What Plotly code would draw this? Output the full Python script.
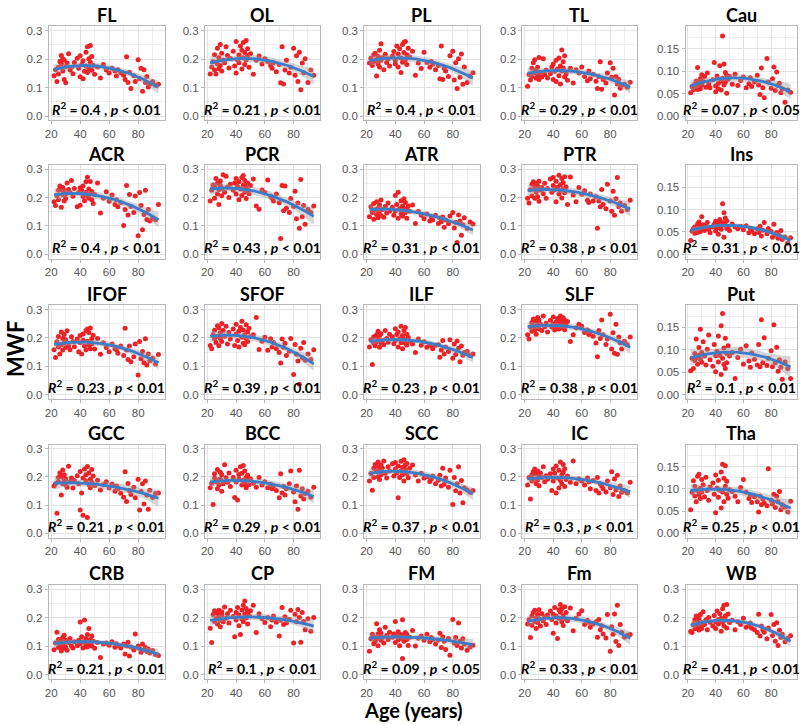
import numpy as np
import plotly.graph_objects as go

ages = [22, 23, 24, 25, 25, 26, 27, 27, 28, 28, 29, 29, 30, 30, 31, 32, 33, 34, 35, 36,
        38, 39, 40, 40, 41, 42, 42, 43, 44, 44, 45, 45, 46, 46, 47, 47, 48, 48, 49, 50,
        52, 54, 56, 58, 60, 62, 64, 65, 66, 68, 70, 71, 72, 73, 74, 75,
        77, 78, 80, 81, 82, 83, 84, 85, 86, 87, 88, 90, 92, 94]

titles = ["FL", "OL", "PL", "TL", "Cau",
          "ACR", "PCR", "ATR", "PTR", "Ins",
          "IFOF", "SFOF", "ILF", "SLF", "Put",
          "GCC", "BCC", "SCC", "IC", "Tha",
          "CRB", "CP", "FM", "Fm", "WB"]

r2_labels = ["0.4", "0.21", "0.4", "0.29", "0.07",
             "0.4", "0.43", "0.31", "0.38", "0.31",
             "0.23", "0.39", "0.23", "0.38", "0.1",
             "0.21", "0.29", "0.37", "0.3", "0.25",
             "0.21", "0.1", "0.09", "0.33", "0.41"]

p_labels = ["0.01", "0.01", "0.01", "0.01", "0.05",
            "0.01", "0.01", "0.01", "0.01", "0.01",
            "0.01", "0.01", "0.01", "0.01", "0.01",
            "0.01", "0.01", "0.01", "0.01", "0.01",
            "0.01", "0.01", "0.05", "0.01", "0.01"]

mwf_FL = [0.142,0.163,0.121,0.171,0.148,0.192,0.213,0.183,0.201,0.158,
          0.128,0.196,0.117,0.174,0.186,0.219,0.162,0.171,0.149,0.188,
          0.203,0.168,0.138,0.212,0.181,0.131,0.194,0.157,0.224,0.176,
          0.153,0.243,0.201,0.167,0.248,0.189,0.161,0.209,0.178,0.147,
          0.172,0.134,0.181,0.162,0.151,0.168,0.158,0.141,0.163,0.152,
          0.143,0.128,0.208,0.118,0.154,0.097,
          0.142,0.121,0.198,0.131,0.168,0.087,0.163,0.118,0.139,0.102,0.113,0.121,0.108,0.112]
mwf_OL = [0.148,0.172,0.191,0.162,0.215,0.148,0.238,0.183,0.205,0.166,
          0.251,0.178,0.221,0.158,0.196,0.187,0.243,0.213,0.169,0.202,
          0.228,0.176,0.151,0.262,0.198,0.214,0.187,0.246,0.165,0.231,
          0.205,0.258,0.181,0.223,0.265,0.197,0.212,0.236,0.171,0.219,
          0.147,0.196,0.211,0.183,0.201,0.192,0.178,0.168,0.187,0.156,
          0.181,0.117,0.243,0.113,0.162,0.196,
          0.151,0.171,0.238,0.143,0.212,0.121,0.224,0.092,0.186,0.152,0.201,0.118,0.162,0.143]
mwf_PL = [0.186,0.203,0.178,0.215,0.192,0.221,0.141,0.198,0.183,0.209,
          0.172,0.231,0.196,0.254,0.205,0.163,0.217,0.188,0.201,0.176,
          0.211,0.227,0.183,0.196,0.246,0.172,0.218,0.236,0.153,0.204,
          0.251,0.189,0.223,0.259,0.197,0.262,0.215,0.181,0.238,0.207,
          0.228,0.143,0.186,0.167,0.224,0.188,0.171,0.192,0.182,0.163,
          0.178,0.131,0.246,0.128,0.168,0.158,
          0.139,0.212,0.228,0.127,0.187,0.097,0.201,0.136,0.218,0.112,0.172,0.118,0.141,0.152]
mwf_TL = [0.105,0.146,0.127,0.168,0.139,0.187,0.152,0.198,0.133,0.161,
          0.142,0.171,0.128,0.206,0.153,0.137,0.201,0.146,0.162,0.134,
          0.149,0.172,0.128,0.183,0.157,0.121,0.196,0.165,0.142,0.204,
          0.176,0.113,0.232,0.158,0.191,0.169,0.137,0.212,0.148,0.126,
          0.168,0.116,0.163,0.151,0.172,0.139,0.124,0.158,0.131,0.147,
          0.122,0.097,0.138,0.191,0.094,0.128,
          0.116,0.151,0.187,0.136,0.168,0.074,0.138,0.113,0.129,0.098,0.108,0.112,0.101,0.119]
mwf_Cau = [0.052,0.066,0.058,0.071,0.062,0.078,0.108,0.059,0.074,0.066,
           0.083,0.061,0.092,0.069,0.077,0.088,0.064,0.096,0.072,0.063,
           0.081,0.119,0.067,0.054,0.089,0.073,0.061,0.112,0.078,0.058,
           0.178,0.084,0.116,0.069,0.097,0.075,0.051,0.091,0.082,0.088,
           0.071,0.093,0.068,0.079,0.087,0.063,0.072,0.085,0.066,0.076,
           0.091,0.069,0.048,0.107,0.063,0.041,
           0.128,0.076,0.062,0.083,0.109,0.057,0.098,0.068,0.073,0.052,0.061,0.031,0.058,0.053]
mwf_ACR = [0.186,0.172,0.208,0.226,0.193,0.241,0.166,0.229,0.211,0.236,
           0.188,0.224,0.213,0.197,0.252,0.229,0.218,0.261,0.205,0.232,
           0.168,0.218,0.235,0.173,0.226,0.204,0.241,0.189,0.219,0.256,
           0.208,0.272,0.198,0.231,0.214,0.257,0.193,0.222,0.179,0.211,
           0.252,0.146,0.198,0.221,0.187,0.209,0.176,0.193,0.168,0.183,
           0.102,0.158,0.243,0.139,0.211,0.169,
           0.148,0.206,0.066,0.218,0.172,0.087,0.141,0.226,0.123,0.158,0.118,0.127,0.122,0.176]
mwf_PCR = [0.188,0.226,0.245,0.198,0.237,0.268,0.213,0.251,0.229,0.176,
           0.243,0.259,0.207,0.232,0.281,0.219,0.276,0.238,0.201,0.247,
           0.226,0.252,0.213,0.268,0.239,0.193,0.256,0.231,0.271,0.208,
           0.244,0.278,0.219,0.261,0.236,0.197,0.252,0.228,0.214,0.243,
           0.266,0.171,0.159,0.227,0.218,0.262,0.206,0.198,0.188,0.213,
           0.182,0.056,0.243,0.154,0.241,0.163,
           0.148,0.197,0.169,0.223,0.126,0.181,0.092,0.264,0.133,0.172,0.106,0.158,0.148,0.171]
mwf_ATR = [0.133,0.168,0.148,0.124,0.179,0.157,0.141,0.186,0.129,0.163,
           0.152,0.174,0.137,0.192,0.158,0.131,0.169,0.146,0.181,0.152,
           0.166,0.138,0.208,0.153,0.176,0.127,0.219,0.161,0.143,0.189,
           0.171,0.135,0.196,0.158,0.148,0.183,0.162,0.127,0.171,0.152,
           0.174,0.109,0.151,0.138,0.126,0.142,0.118,0.133,0.121,0.138,
           0.109,0.128,0.115,0.132,0.096,0.121,
           0.108,0.135,0.148,0.093,0.113,0.042,0.139,0.118,0.067,0.104,0.129,0.091,0.114,0.107]
mwf_PTR = [0.198,0.181,0.228,0.247,0.206,0.256,0.198,0.238,0.219,0.251,
           0.203,0.241,0.187,0.258,0.227,0.236,0.214,0.251,0.198,0.232,
           0.266,0.219,0.243,0.271,0.228,0.186,0.258,0.237,0.213,0.279,
           0.246,0.224,0.268,0.199,0.253,0.231,0.274,0.217,0.238,0.176,
           0.273,0.209,0.186,0.236,0.212,0.224,0.191,0.183,0.213,0.188,
           0.203,0.092,0.188,0.168,0.229,0.176,
           0.161,0.247,0.188,0.152,0.223,0.138,0.196,0.271,0.168,0.181,0.152,0.172,0.158,0.191]
mwf_Ins = [0.031,0.052,0.058,0.047,0.061,0.055,0.068,0.049,0.072,0.057,
           0.063,0.051,0.084,0.059,0.066,0.053,0.062,0.071,0.056,0.048,
           0.061,0.067,0.052,0.074,0.059,0.069,0.045,0.078,0.063,0.056,
           0.113,0.071,0.038,0.093,0.066,0.081,0.058,0.075,0.062,0.053,
           0.068,0.061,0.057,0.063,0.055,0.064,0.048,0.058,0.052,0.046,
           0.057,0.049,0.063,0.041,0.054,0.071,
           0.046,0.058,0.051,0.038,0.067,0.044,0.049,0.036,0.042,0.053,0.033,0.039,0.025,0.037]
mwf_IFOF = [0.158,0.131,0.186,0.168,0.205,0.143,0.221,0.176,0.198,0.157,
            0.212,0.183,0.166,0.193,0.225,0.172,0.158,0.204,0.187,0.169,
            0.196,0.151,0.208,0.183,0.143,0.214,0.192,0.171,0.226,0.158,
            0.231,0.188,0.174,0.219,0.162,0.235,0.197,0.178,0.209,0.161,
            0.198,0.142,0.183,0.166,0.151,0.178,0.162,0.158,0.146,0.171,
            0.138,0.234,0.157,0.124,0.171,0.116,
            0.133,0.178,0.069,0.187,0.126,0.152,0.112,0.197,0.104,0.143,0.119,0.128,0.108,0.141]
mwf_SFOF = [0.173,0.162,0.211,0.196,0.227,0.184,0.243,0.205,0.172,0.236,
            0.198,0.218,0.251,0.187,0.226,0.206,0.241,0.178,0.219,0.196,
            0.231,0.173,0.214,0.248,0.191,0.223,0.168,0.237,0.202,0.259,
            0.181,0.228,0.211,0.176,0.246,0.198,0.221,0.187,0.234,0.205,
            0.211,0.272,0.159,0.188,0.202,0.156,0.197,0.168,0.184,0.162,
            0.148,0.111,0.196,0.167,0.181,0.138,
            0.153,0.198,0.071,0.177,0.142,0.118,0.036,0.163,0.131,0.184,0.121,0.143,0.124,0.158]
mwf_ILF = [0.168,0.193,0.106,0.181,0.204,0.172,0.211,0.186,0.196,0.223,
           0.167,0.208,0.183,0.215,0.191,0.176,0.226,0.198,0.185,0.213,
           0.204,0.179,0.232,0.191,0.212,0.168,0.221,0.197,0.183,0.241,
           0.208,0.162,0.226,0.194,0.237,0.181,0.213,0.175,0.201,0.188,
           0.178,0.148,0.196,0.174,0.186,0.167,0.178,0.171,0.162,0.174,
           0.176,0.132,0.157,0.191,0.143,0.168,
           0.152,0.193,0.128,0.178,0.141,0.189,0.163,0.116,0.171,0.139,0.148,0.152,0.138,0.143]
mwf_SLF = [0.211,0.196,0.238,0.254,0.223,0.267,0.241,0.228,0.259,0.213,
           0.272,0.246,0.231,0.263,0.248,0.226,0.277,0.239,0.252,0.221,
           0.262,0.238,0.249,0.274,0.228,0.256,0.243,0.268,0.231,0.259,
           0.277,0.246,0.266,0.236,0.271,0.252,0.229,0.262,0.244,0.258,
           0.187,0.211,0.236,0.248,0.241,0.219,0.228,0.212,0.221,0.206,
           0.182,0.133,0.226,0.198,0.263,0.211,
           0.177,0.196,0.283,0.161,0.218,0.146,0.248,0.142,0.203,0.183,0.161,0.188,0.176,0.203]
mwf_Put = [0.053,0.081,0.058,0.092,0.076,0.124,0.083,0.068,0.105,0.088,
           0.079,0.146,0.094,0.072,0.118,0.086,0.066,0.101,0.133,0.078,
           0.063,0.112,0.087,0.051,0.097,0.073,0.131,0.088,0.045,0.154,
           0.081,0.181,0.067,0.104,0.058,0.126,0.092,0.071,0.109,0.086,
           0.094,0.036,0.083,0.101,0.068,0.109,0.075,0.061,0.093,0.079,
           0.066,0.112,0.062,0.167,0.071,0.127,
           0.065,0.081,0.098,0.062,0.156,0.071,0.106,0.052,0.078,0.061,0.034,0.073,0.058,0.036]
mwf_GCC = [0.168,0.176,0.071,0.198,0.183,0.214,0.136,0.201,0.176,0.225,
           0.189,0.208,0.172,0.194,0.163,0.238,0.183,0.196,0.161,0.187,
           0.204,0.176,0.083,0.219,0.143,0.196,0.064,0.228,0.186,0.208,
           0.056,0.237,0.173,0.214,0.192,0.162,0.226,0.181,0.203,0.169,
           0.188,0.154,0.172,0.183,0.161,0.175,0.149,0.168,0.158,0.142,
           0.128,0.218,0.113,0.177,0.152,0.138,
           0.163,0.126,0.192,0.083,0.148,0.176,0.104,0.186,0.136,0.085,0.153,0.127,0.141,0.143]
mwf_BCC = [0.162,0.178,0.102,0.196,0.211,0.183,0.158,0.226,0.189,0.171,
           0.217,0.193,0.149,0.208,0.176,0.243,0.197,0.181,0.214,0.166,
           0.198,0.127,0.224,0.182,0.118,0.209,0.193,0.236,0.171,0.213,
           0.188,0.241,0.176,0.221,0.198,0.162,0.206,0.188,0.172,0.194,
           0.178,0.163,0.198,0.171,0.183,0.162,0.174,0.158,0.168,0.152,
           0.126,0.211,0.143,0.166,0.136,0.158,
           0.176,0.221,0.147,0.112,0.168,0.085,0.224,0.132,0.158,0.122,0.141,0.149,0.128,0.163]
mwf_SCC = [0.186,0.212,0.153,0.231,0.198,0.244,0.219,0.238,0.201,0.253,
           0.226,0.191,0.242,0.208,0.232,0.257,0.213,0.196,0.236,0.221,
           0.247,0.203,0.228,0.251,0.214,0.126,0.239,0.198,0.256,0.221,
           0.234,0.208,0.261,0.186,0.243,0.226,0.212,0.248,0.197,0.231,
           0.242,0.207,0.186,0.213,0.196,0.201,0.184,0.192,0.203,0.176,
           0.188,0.206,0.168,0.231,0.174,0.196,
           0.163,0.224,0.102,0.198,0.151,0.176,0.236,0.143,0.187,0.108,0.162,0.154,0.146,0.152]
mwf_IC = [0.171,0.198,0.122,0.186,0.208,0.219,0.193,0.228,0.176,0.211,
          0.189,0.221,0.201,0.169,0.214,0.198,0.236,0.183,0.204,0.192,
          0.211,0.152,0.228,0.186,0.213,0.143,0.239,0.196,0.161,0.224,
          0.187,0.253,0.208,0.176,0.244,0.216,0.166,0.229,0.191,0.203,
          0.181,0.257,0.176,0.193,0.186,0.171,0.196,0.183,0.158,0.187,
          0.152,0.198,0.143,0.176,0.168,0.158,
          0.147,0.186,0.162,0.218,0.138,0.193,0.154,0.206,0.131,0.168,0.146,0.152,0.143,0.181]
mwf_Tha = [0.053,0.092,0.118,0.084,0.106,0.071,0.128,0.096,0.087,0.133,
           0.101,0.078,0.121,0.093,0.109,0.082,0.126,0.096,0.074,0.104,
           0.113,0.088,0.131,0.046,0.102,0.119,0.081,0.097,0.138,0.057,
           0.155,0.093,0.124,0.071,0.152,0.106,0.088,0.117,0.079,0.098,
           0.094,0.083,0.071,0.103,0.121,0.092,0.078,0.086,0.069,0.082,
           0.071,0.048,0.083,0.064,0.077,0.068,
           0.062,0.145,0.074,0.066,0.088,0.058,0.083,0.071,0.094,0.053,0.064,0.059,0.048,0.072]
mwf_CRB = [0.088,0.112,0.149,0.096,0.124,0.103,0.084,0.118,0.132,0.092,
           0.108,0.139,0.097,0.121,0.086,0.113,0.127,0.101,0.094,0.116,
           0.102,0.121,0.185,0.109,0.133,0.094,0.116,0.192,0.104,0.127,
           0.141,0.098,0.162,0.112,0.123,0.107,0.136,0.101,0.118,0.093,
           0.113,0.061,0.108,0.112,0.104,0.116,0.097,0.109,0.103,0.094,
           0.108,0.073,0.101,0.114,0.066,0.098,
           0.087,0.143,0.101,0.092,0.079,0.108,0.088,0.096,0.082,0.091,0.077,0.085,0.071,0.068]
mwf_CP = [0.163,0.113,0.211,0.187,0.224,0.196,0.215,0.178,0.203,0.226,
          0.191,0.168,0.209,0.221,0.186,0.237,0.198,0.214,0.181,0.226,
          0.204,0.133,0.218,0.192,0.236,0.172,0.209,0.141,0.227,0.196,
          0.243,0.186,0.258,0.213,0.232,0.199,0.221,0.178,0.208,0.224,
          0.243,0.148,0.214,0.196,0.183,0.201,0.168,0.192,0.206,0.184,
          0.136,0.191,0.236,0.176,0.203,0.181,
          0.194,0.226,0.112,0.212,0.186,0.229,0.201,0.114,0.218,0.187,0.158,0.196,0.153,0.201]
mwf_FM = [0.083,0.126,0.142,0.109,0.133,0.118,0.179,0.127,0.143,0.102,
          0.137,0.158,0.121,0.146,0.131,0.112,0.167,0.138,0.124,0.149,
          0.132,0.143,0.113,0.187,0.136,0.122,0.151,0.102,0.141,0.128,
          0.057,0.193,0.134,0.118,0.148,0.137,0.124,0.141,0.103,0.132,
          0.155,0.101,0.128,0.136,0.121,0.142,0.116,0.131,0.124,0.108,
          0.122,0.146,0.096,0.133,0.118,0.089,
          0.127,0.069,0.194,0.112,0.131,0.103,0.181,0.118,0.094,0.126,0.108,0.086,0.098,0.104]
mwf_Fm = [0.178,0.193,0.131,0.206,0.174,0.218,0.187,0.226,0.162,0.199,
          0.211,0.183,0.228,0.196,0.171,0.214,0.188,0.202,0.176,0.209,
          0.223,0.194,0.146,0.212,0.236,0.181,0.206,0.127,0.228,0.198,
          0.219,0.246,0.186,0.231,0.207,0.173,0.238,0.196,0.218,0.189,
          0.234,0.154,0.198,0.213,0.224,0.176,0.191,0.183,0.167,0.178,
          0.186,0.132,0.194,0.158,0.172,0.143,
          0.129,0.211,0.083,0.168,0.142,0.213,0.117,0.243,0.103,0.176,0.148,0.132,0.139,0.141]
mwf_WB = [0.152,0.148,0.176,0.193,0.161,0.206,0.172,0.188,0.157,0.198,
          0.168,0.211,0.183,0.162,0.221,0.176,0.193,0.158,0.201,0.184,
          0.171,0.208,0.186,0.162,0.223,0.193,0.178,0.214,0.153,0.198,
          0.231,0.184,0.243,0.171,0.206,0.192,0.246,0.164,0.213,0.183,
          0.191,0.158,0.186,0.176,0.198,0.167,0.172,0.181,0.163,0.158,
          0.148,0.212,0.136,0.171,0.158,0.149,
          0.126,0.164,0.211,0.138,0.176,0.118,0.182,0.103,0.156,0.131,0.142,0.116,0.128,0.137]

series = [mwf_FL, mwf_OL, mwf_PL, mwf_TL, mwf_Cau,
          mwf_ACR, mwf_PCR, mwf_ATR, mwf_PTR, mwf_Ins,
          mwf_IFOF, mwf_SFOF, mwf_ILF, mwf_SLF, mwf_Put,
          mwf_GCC, mwf_BCC, mwf_SCC, mwf_IC, mwf_Tha,
          mwf_CRB, mwf_CP, mwf_FM, mwf_Fm, mwf_WB]

small_range = {"Cau", "Ins", "Put", "Tha"}

W, H = 800, 724
col_px = [(45, 162), (202, 318), (362, 478), (521, 636), (685, 797)]
row_px = [(24.5, 119), (164, 258), (305, 399), (445, 538.5), (586, 681)]

POINT = "#EC2227"
LINE = "#3D7CC9"
GRID = "#e3e3e3"
GRID_MINOR = "#efefef"
BORDER = "#b8b8b8"
TICKTXT = "#555555"

fig = go.Figure()
layout = dict(width=W, height=H, margin=dict(l=0, r=0, t=0, b=0),
              paper_bgcolor="white", plot_bgcolor="white", showlegend=False)
annotations = []

for i, (title, vals) in enumerate(zip(titles, series)):
    r, c = divmod(i, 5)
    k = i + 1
    sfx = "" if k == 1 else str(k)
    xa, ya = "x" + sfx, "y" + sfx
    x = np.array(ages, dtype=float)
    y = np.array(vals, dtype=float)

    # quadratic fit with 95% confidence band (like geom_smooth)
    X = np.vstack([x ** 2, x, np.ones_like(x)]).T
    coef, *_ = np.linalg.lstsq(X, y, rcond=None)
    resid = y - X @ coef
    s2 = resid @ resid / (len(x) - 3)
    XtXi = np.linalg.inv(X.T @ X)
    xs = np.linspace(x.min(), x.max(), 80)
    Xs = np.vstack([xs ** 2, xs, np.ones_like(xs)]).T
    fit = Xs @ coef
    se = np.sqrt(np.einsum("ij,jk,ik->i", Xs, XtXi, Xs) * s2)
    up, lo = fit + 1.995 * se, fit - 1.995 * se

    fig.add_trace(go.Scatter(x=x, y=y, mode="markers", xaxis=xa, yaxis=ya,
                             marker=dict(color=POINT, size=5, line=dict(width=0)),
                             hoverinfo="skip"))
    fig.add_trace(go.Scatter(x=np.concatenate([xs, xs[::-1]]),
                             y=np.concatenate([up, lo[::-1]]),
                             mode="lines", fill="toself", xaxis=xa, yaxis=ya,
                             fillcolor="rgba(153,153,153,0.4)",
                             line=dict(width=0), hoverinfo="skip"))
    fig.add_trace(go.Scatter(x=xs, y=fit, mode="lines", xaxis=xa, yaxis=ya,
                             line=dict(color=LINE, width=2.8), hoverinfo="skip"))

    l, rr = col_px[c]
    t, b = row_px[r]
    small = title in small_range
    if small:
        yr = [-0.0095, 0.1995]
        ytv = [0, 0.05, 0.10, 0.15]
        ytt = ["0.00", "0.05", "0.10", "0.15"]
        ymd = 0.025
    else:
        yr = [-0.015, 0.315]
        ytv = [0, 0.1, 0.2, 0.3]
        ytt = ["0.0", "0.1", "0.2", "0.3"]
        ymd = 0.05

    common = dict(showline=True, mirror=True, linecolor=BORDER, linewidth=1,
                  showgrid=True, gridcolor=GRID, gridwidth=1, zeroline=False,
                  ticks="outside", ticklen=3, tickcolor=BORDER, tickwidth=1,
                  tickfont=dict(family="Liberation Sans, Arial", size=11.5, color=TICKTXT),
                  fixedrange=True)
    layout["xaxis" + sfx] = dict(common, domain=[l / W, rr / W], anchor=ya,
                                 range=[18.35, 98.65], tickmode="array",
                                 tickvals=[20, 40, 60, 80], ticktext=["20", "40", "60", "80"],
                                 minor=dict(tick0=0, dtick=10, showgrid=True,
                                            gridcolor=GRID_MINOR, gridwidth=1, ticks=""))
    layout["yaxis" + sfx] = dict(common, domain=[1 - b / H, 1 - t / H], anchor=xa,
                                 range=yr, tickmode="array", tickvals=ytv, ticktext=ytt,
                                 minor=dict(tick0=0, dtick=ymd, showgrid=True,
                                            gridcolor=GRID_MINOR, gridwidth=1, ticks=""))

    cx = (l + rr) / 2 / W
    annotations.append(dict(text="<b>" + title + "</b>", x=cx, y=1 - (t - 11.5) / H,
                            xref="paper", yref="paper", showarrow=False,
                            xanchor="center", yanchor="middle",
                            font=dict(family="Lato, Noto Sans", size=18, color="black")))
    annotations.append(dict(text="<b><i>R</i><sup>2</sup> = " + r2_labels[i]
                                 + " , <i>p</i> &lt; " + p_labels[i] + "</b>",
                            x=cx, y=1 - (b - 12) / H, xref="paper", yref="paper",
                            showarrow=False, xanchor="center", yanchor="middle",
                            font=dict(family="Lato, Noto Sans", size=14, color="black")))

annotations.append(dict(text="<b>MWF</b>", x=11 / W, y=1 - 349 / H, xref="paper", yref="paper",
                        showarrow=False, textangle=-90, xanchor="center", yanchor="middle",
                        font=dict(family="Lato, Noto Sans", size=22, color="black")))
annotations.append(dict(text="<b>Age (years)</b>", x=412 / W, y=1 - 712 / H, xref="paper",
                        yref="paper", showarrow=False, xanchor="center", yanchor="middle",
                        font=dict(family="Lato, Noto Sans", size=20, color="black")))
layout["annotations"] = annotations
fig.update_layout(**layout)
fig.write_html("out.html", config={"displayModeBar": False, "staticPlot": True},
               post_script="document.body.style.margin='0';document.body.style.overflow='hidden';")
